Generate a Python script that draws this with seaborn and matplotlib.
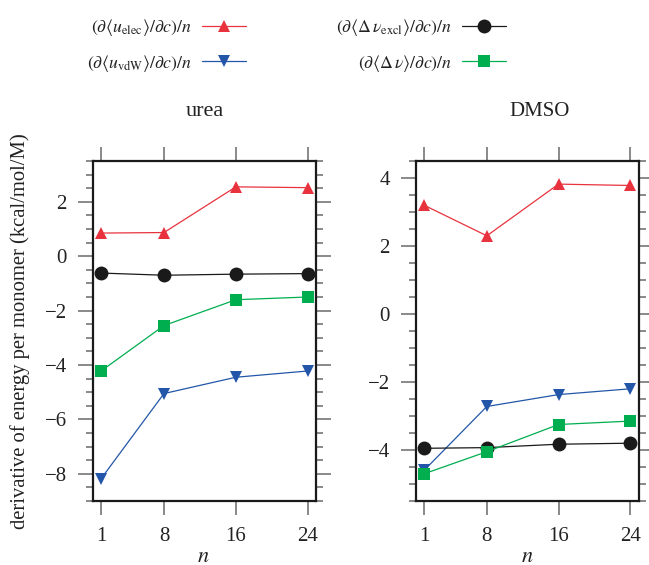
import numpy as np
import pandas as pd
import seaborn as sns
import matplotlib
matplotlib.use("Agg")
import matplotlib.pyplot as plt
from matplotlib.lines import Line2D
from matplotlib.ticker import MultipleLocator

# ---- data ----
n_values = [1, 8, 16, 24]
series_keys = ["elec", "vdW", "excl", "dnu"]
series_labels = {
    "elec": r"$(\partial\langle u_{\rm elec}\rangle/\partial c)/n$",
    "vdW": r"$(\partial\langle u_{\rm vdW}\rangle/\partial c)/n$",
    "excl": r"$(\partial\langle \Delta\,\nu_{\rm excl}\rangle/\partial c)/n$",
    "dnu": r"$(\partial\langle \Delta\,\nu\rangle/\partial c)/n$",
}
urea_elec = [0.85, 0.87, 2.55, 2.52]
urea_vdW = [-8.18, -5.05, -4.45, -4.22]
urea_excl = [-0.62, -0.70, -0.66, -0.64]
urea_dnu = [-4.22, -2.55, -1.60, -1.50]
dmso_elec = [3.20, 2.30, 3.82, 3.78]
dmso_vdW = [-4.60, -2.72, -2.37, -2.20]
dmso_excl = [-3.95, -3.93, -3.83, -3.80]
dmso_dnu = [-4.70, -4.05, -3.25, -3.15]
panel_titles = ["urea", "DMSO"]

colors = {"elec": "#E8333E", "vdW": "#2356A8", "excl": "#1A1A1A", "dnu": "#00AE4F"}
markers = {"elec": "^", "vdW": "v", "excl": "o", "dnu": "s"}
msizes = {"elec": 9, "vdW": 9, "excl": 10, "dnu": 9}

def make_df(vals):
    rows = []
    for key, v in zip(series_keys, vals):
        for n, y in zip(n_values, v):
            rows.append({"n": n, "value": y, "series": key})
    return pd.DataFrame(rows)

df_urea = make_df([urea_elec, urea_vdW, urea_excl, urea_dnu])
df_dmso = make_df([dmso_elec, dmso_vdW, dmso_excl, dmso_dnu])

sns.set_theme(style="white")
plt.rcParams["font.family"] = ["Liberation Serif", "DejaVu Serif"]
plt.rcParams["mathtext.fontset"] = "stix"

fig = plt.figure(figsize=(6.49, 5.65), dpi=100)
W, H = 649, 565
def ax_rect(l, t, r, b):
    return [l / W, 1 - b / H, (r - l) / W, (b - t) / H]

ax1 = fig.add_axes(ax_rect(93, 161, 316, 501))
ax2 = fig.add_axes(ax_rect(416, 161, 638.5, 501))

for ax, df, ylim in [(ax1, df_urea, (-9, 3.5)), (ax2, df_dmso, (-5.5, 4.5))]:
    for key in series_keys:
        sub = df[df.series == key]
        sns.lineplot(data=sub, x="n", y="value", ax=ax, color=colors[key],
                     marker=markers[key], markersize=msizes[key],
                     markeredgewidth=0, linewidth=0.9, legend=False)
    ax.set_xlim(0.1, 24.92)
    ax.set_ylim(*ylim)
    ax.set_xticks(n_values)
    ax.set_xticklabels([str(v) for v in n_values])
    ax.yaxis.set_major_locator(MultipleLocator(2))
    ax.yaxis.set_minor_locator(MultipleLocator(0.5))
    ax.set_xlabel("")
    ax.set_ylabel("")
    for s in ax.spines.values():
        s.set_visible(True)
        s.set_linewidth(1.6)
        s.set_color("#1a1a1a")
    ax.tick_params(axis="both", which="major", direction="out", length=10.8,
                   width=1.1, color="#6a6a6a", labelsize=15, labelcolor="#222222",
                   left=True, right=True, top=True, bottom=True,
                   labelleft=True, labelright=False, labeltop=False, labelbottom=True)
    ax.tick_params(axis="y", which="minor", direction="out", length=5,
                   width=1.1, color="#6a6a6a", left=True, right=True)
    ax.tick_params(axis="x", which="major", length=10, pad=9)
    ax.tick_params(axis="y", which="major", pad=8)
    ax.grid(False)
    ax.set_facecolor("white")

fig.text(205 / W, 1 - 111 / H, panel_titles[0], ha="center", va="center", fontsize=16, color="#222222")
fig.text(539.5 / W, 1 - 111 / H, panel_titles[1], ha="center", va="center", fontsize=15, color="#222222")
fig.text(203 / W, 1 - 557 / H, r"$n$", ha="center", va="center", fontsize=16, color="#222222")
fig.text(527 / W, 1 - 557 / H, r"$n$", ha="center", va="center", fontsize=16, color="#222222")
fig.text(20 / W, 1 - 331 / H, "derivative of energy per monomer (kcal/mol/M)",
         rotation=90, ha="center", va="center", fontsize=14.9, color="#222222")

def handle(key):
    return Line2D([], [], color=colors[key], marker=markers[key], markersize=msizes[key],
                  markeredgewidth=0, linewidth=0.9)

legend_pos = {"elec": (246, 28), "vdW": (246, 63), "excl": (506, 28), "dnu": (506, 63)}
for key in series_keys:
    xr, yc = legend_pos[key]
    leg = fig.legend([handle(key)], [series_labels[key]],
                     loc="center right", bbox_to_anchor=(xr / W, 1 - yc / H), frameon=False,
                     markerfirst=False, fontsize=12.8, handlelength=2.5, handletextpad=0.55,
                     borderaxespad=0, borderpad=0, labelcolor="#222222")

fig.savefig("out.png", dpi=100, facecolor="white")
